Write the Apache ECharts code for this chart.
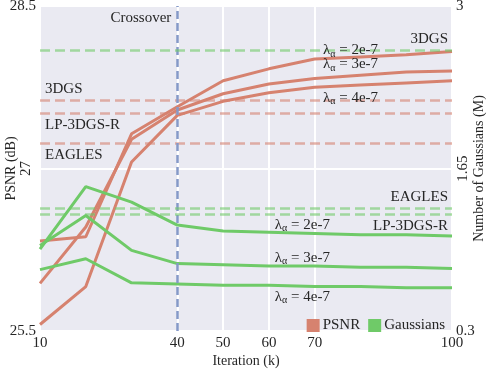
<!DOCTYPE html>
<html>
<head>
<meta charset="utf-8">
<script src="https://cdn.jsdelivr.net/npm/echarts@6/dist/echarts.min.js"></script>
<style>
  html, body { margin: 0; padding: 0; background: #fff; }
  #chart { width: 492px; height: 370px; }
</style>
</head>
<body>
<div id="chart"></div>
<script>
// iterations (k)
var iters = [10, 20, 30, 40, 50, 60, 70, 80, 90, 100];
var xTicks = [10, 40, 50, 60, 70, 100];

// PSNR (dB), one per lambda
var psnr2e7 = [26.33, 26.37, 27.32, 27.57, 27.81, 27.92, 28.01, 28.03, 28.05, 28.08];
var psnr3e7 = [25.94, 26.46, 27.27, 27.54, 27.69, 27.78, 27.83, 27.86, 27.89, 27.90];
var psnr4e7 = [25.56, 25.91, 27.06, 27.49, 27.62, 27.70, 27.75, 27.77, 27.79, 27.81];

// number of gaussians (M)
var gauss2e7 = [0.98, 1.50, 1.37, 1.18, 1.13, 1.12, 1.11, 1.10, 1.10, 1.09];
var gauss3e7 = [1.01, 1.26, 0.97, 0.86, 0.85, 0.84, 0.84, 0.83, 0.83, 0.82];
var gauss4e7 = [0.81, 0.90, 0.70, 0.69, 0.68, 0.68, 0.67, 0.67, 0.66, 0.66];

// baselines
var psnrRefNames = ['3DGS', 'LP-3DGS-R', 'EAGLES'];
var psnrRefs = [27.63, 27.51, 27.23];
var gaussRefNames = ['3DGS', 'EAGLES', 'LP-3DGS-R'];
var gaussRefs = [2.63, 1.32, 1.27];
var crossover = 40;

var leftTicks = [25.5, 27, 28.5];
var rightTicks = [0.3, 1.65, 3];
var lambdas = ['2e-7', '3e-7', '4e-7'];

var FONT = 'Liberation Serif';
var TXT = '#262626';
var RED = '#d6826f';
var GREEN = '#6fca68';

function pairs(ys) {
    var out = [];
    for (var i = 0; i < iters.length; i++) out.push([iters[i], ys[i]]);
    return out;
}

var lamRich = {
    l: { fontFamily: FONT, fontSize: 15, color: TXT },
    s: { fontFamily: FONT, fontSize: 10, color: TXT, padding: [7, 0, 0, 0] },
    t: { fontFamily: FONT, fontSize: 15, color: TXT }
};
function lamLabel(x, y, lam) {
    return {
        coord: [x, y],
        label: {
            show: true, position: 'right', distance: 0,
            formatter: '{l|λ}{s|α}{t| = ' + lam + '}',
            rich: lamRich
        }
    };
}

function lineSeries(name, ys, color, yIdx, extra) {
    var s = {
        name: name,
        type: 'line',
        yAxisIndex: yIdx,
        data: pairs(ys),
        showSymbol: false,
        symbol: 'none',
        lineStyle: { color: color, width: 3 },
        itemStyle: { color: color },
        z: 3
    };
    for (var k in extra) s[k] = extra[k];
    return s;
}

var psnrMarks = [];
for (var i = 0; i < psnrRefs.length; i++) {
    psnrMarks.push({
        yAxis: psnrRefs[i],
        label: {
            show: true,
            formatter: psnrRefNames[i],
            position: i === 0 ? 'insideStartTop' : 'insideStartBottom',
            distance: [5, 4],
            color: TXT, fontFamily: FONT, fontSize: 15
        }
    });
}
psnrMarks.push({
    xAxis: crossover,
    lineStyle: { color: '#8599c8', type: [8, 4], width: 2.5 },
    label: { show: false }
});

var gaussMarks = [];
for (var j = 0; j < gaussRefs.length; j++) {
    gaussMarks.push({
        yAxis: gaussRefs[j],
        label: {
            show: true,
            formatter: gaussRefNames[j],
            position: j === 2 ? 'insideEndBottom' : 'insideEndTop',
            distance: [4, 4],
            color: TXT, fontFamily: FONT, fontSize: 15
        }
    });
}

var chart = echarts.init(document.getElementById('chart'));
chart.setOption({
    animation: false,
    backgroundColor: '#fff',
    textStyle: { fontFamily: FONT, color: TXT },
    grid: {
        left: 40, right: 40, top: 6, bottom: 39,
        containLabel: false, outerBoundsMode: 'none',
        show: true, backgroundColor: '#eaeaf2', borderWidth: 0
    },
    legend: {
        data: ['PSNR', 'Gaussians'],
        right: 42, top: 313,
        icon: 'rect', itemWidth: 13, itemHeight: 13, itemGap: 8,
        textStyle: { fontFamily: FONT, fontSize: 15, color: TXT, padding: [0, 0, 0, -2] }
    },
    xAxis: {
        type: 'value', min: 10, max: 100,
        name: 'Iteration (k)', nameLocation: 'middle', nameGap: 23, nameMoveOverlap: false,
        nameTextStyle: { fontFamily: FONT, fontSize: 14, color: TXT },
        axisLine: { show: false }, axisTick: { show: false, customValues: xTicks },
        axisLabel: { customValues: xTicks, fontFamily: FONT, fontSize: 15, color: TXT, margin: 5 },
        splitLine: { show: true, lineStyle: { color: '#fff', width: 2 } }
    },
    yAxis: [
        {
            type: 'value', min: 25.5, max: 28.5, interval: 1.5, position: 'left',
            name: 'PSNR (dB)', nameLocation: 'middle', nameGap: 22, nameMoveOverlap: false,
            nameTextStyle: { fontFamily: FONT, fontSize: 14, color: TXT },
            axisLine: { show: false }, axisTick: { show: false },
            axisLabel: { customValues: [leftTicks[0], leftTicks[2]], fontFamily: FONT, fontSize: 15, color: TXT, margin: 4 },
            splitLine: { show: true, lineStyle: { color: '#fff', width: 2 } }
        },
        {
            type: 'value', min: 0.3, max: 3, interval: 1.35, position: 'right',
            name: 'Number of Gaussians (M)', nameLocation: 'middle', nameGap: 20, nameMoveOverlap: false,
            nameTextStyle: { fontFamily: FONT, fontSize: 14, color: TXT },
            axisLine: { show: false }, axisTick: { show: false },
            axisLabel: { customValues: [rightTicks[0], rightTicks[2]], fontFamily: FONT, fontSize: 15, color: TXT, margin: 4 },
            splitLine: { show: false }
        },
        {
            type: 'value', min: 25.5, max: 28.5, position: 'left',
            axisLine: { show: false }, axisTick: { show: false }, splitLine: { show: false },
            axisLabel: { customValues: [leftTicks[1]], rotate: 90, fontFamily: FONT, fontSize: 15, color: TXT, margin: 6 }
        },
        {
            type: 'value', min: 0.3, max: 3, position: 'right',
            axisLine: { show: false }, axisTick: { show: false }, splitLine: { show: false },
            axisLabel: { customValues: [rightTicks[1]], rotate: 90, fontFamily: FONT, fontSize: 15, color: TXT, margin: 4 }
        }
    ],
    series: [
        lineSeries('PSNR', psnr2e7, RED, 0, {
            markLine: {
                silent: true, symbol: 'none',
                lineStyle: { color: 'rgba(214,130,111,0.6)', type: [10, 5], width: 2.5 },
                data: psnrMarks
            },
            markPoint: {
                symbol: 'circle', symbolSize: 0,
                data: [
                    lamLabel(71.8, 28.09, lambdas[0]),
                    lamLabel(71.8, 27.96, lambdas[1]),
                    lamLabel(71.8, 27.65, lambdas[2]),
                    {
                        coord: [crossover, 28.39],
                        label: { show: true, position: 'left', distance: 6, formatter: 'Crossover',
                                 fontFamily: FONT, fontSize: 15, color: TXT }
                    }
                ]
            }
        }),
        lineSeries('PSNR', psnr3e7, RED, 0),
        lineSeries('PSNR', psnr4e7, RED, 0),
        lineSeries('Gaussians', gauss2e7, GREEN, 1, {
            markLine: {
                silent: true, symbol: 'none',
                lineStyle: { color: 'rgba(111,202,104,0.6)', type: [10, 5], width: 2.5 },
                data: gaussMarks
            },
            markPoint: {
                symbol: 'circle', symbolSize: 0,
                data: [
                    lamLabel(61.3, 1.18, lambdas[0]),
                    lamLabel(61.3, 0.91, lambdas[1]),
                    lamLabel(61.3, 0.585, lambdas[2])
                ]
            }
        }),
        lineSeries('Gaussians', gauss3e7, GREEN, 1),
        lineSeries('Gaussians', gauss4e7, GREEN, 1)
    ]
});
</script>
</body>
</html>
